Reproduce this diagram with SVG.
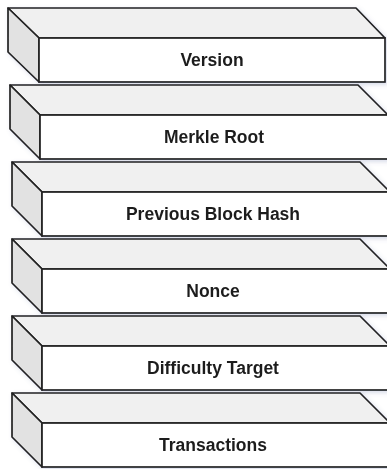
<svg xmlns="http://www.w3.org/2000/svg" width="387" height="469" viewBox="0 0 387 469">
  <style>
    .top { fill: #f0f0f0; stroke: #222222; stroke-width: 1.7; stroke-linejoin: round; }
    .side { fill: #e2e2e2; stroke: #222222; stroke-width: 1.7; stroke-linejoin: round; }
    .front { fill: #ffffff; stroke: #222222; stroke-width: 1.7; }
    .label { font-family: "Liberation Sans", Arial, sans-serif; font-weight: bold; font-size: 17.5px; fill: #1e1e1e; text-anchor: middle; }
  </style>
  <defs>
    <filter id="shadow" x="-5%" y="-10%" width="115%" height="130%">
      <feDropShadow dx="2" dy="2" stdDeviation="2" flood-color="#6070a0" flood-opacity="0.25"/>
    </filter>
    <!-- one slab: top face, left face, front face (local origin at top-left corner) -->
    <g id="slab">
      <polygon class="top" points="0,0 348,0 378,30 30,30"/>
      <polygon class="side" points="0,0 30,30 30,74 0,44"/>
      <rect class="front" x="30" y="30" width="348" height="44"/>
    </g>
  </defs>

  <g id="version" transform="translate(8,8)" filter="url(#shadow)">
    <polygon class="top" points="0,0 348,0 377,30 31,30"/>
    <polygon class="side" points="0,0 31,30 31,74 0,44"/>
    <rect class="front" x="31" y="30" width="346" height="44"/>
    <text class="label" x="204" y="58">Version</text>
  </g>

  <g id="merkle-root" transform="translate(10,85)" filter="url(#shadow)">
    <use href="#slab"/>
    <text class="label" x="204" y="58">Merkle Root</text>
  </g>

  <g id="previous-block-hash" transform="translate(12,162)" filter="url(#shadow)">
    <use href="#slab"/>
    <text class="label" x="201" y="58">Previous Block Hash</text>
  </g>

  <g id="nonce" transform="translate(12,239)" filter="url(#shadow)">
    <use href="#slab"/>
    <text class="label" x="201" y="58">Nonce</text>
  </g>

  <g id="difficulty-target" transform="translate(12,316)" filter="url(#shadow)">
    <use href="#slab"/>
    <text class="label" x="201" y="58">Difficulty Target</text>
  </g>

  <g id="transactions" transform="translate(12,393)" filter="url(#shadow)">
    <use href="#slab"/>
    <text class="label" x="201" y="58">Transactions</text>
  </g>

  <g id="connectors"/>
</svg>
